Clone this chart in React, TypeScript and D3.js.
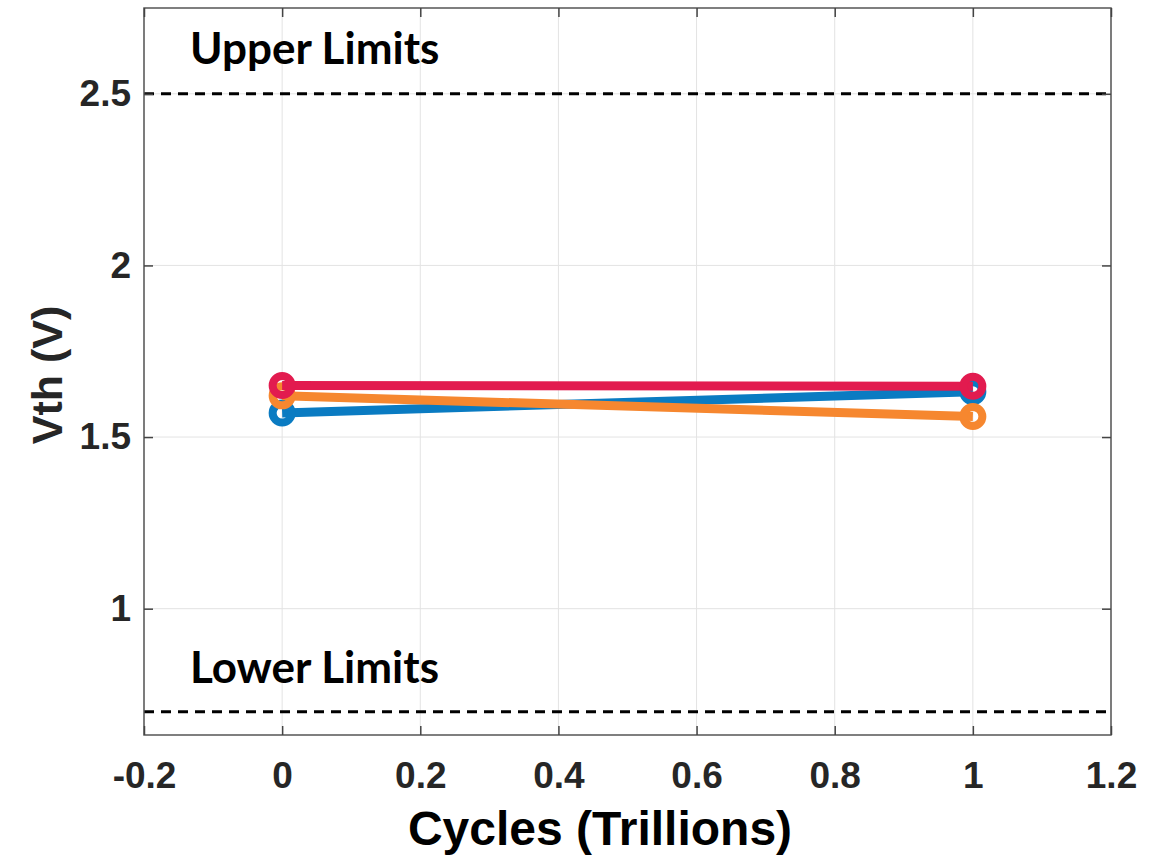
import * as d3 from "d3";
import React, { useRef, useEffect } from "react";

const cycles = [0, 1];
const blueVth = [1.57, 1.632];
const orangeVth = [1.62, 1.56];
const redVth = [1.65, 1.648];
const series = [
  { name: "blue", values: blueVth, color: "#0A7BC2" },
  { name: "orange", values: orangeVth, color: "#F6872F" },
  { name: "red", values: redVth, color: "#E21B4F" },
];
const xTicks = [-0.2, 0, 0.2, 0.4, 0.6, 0.8, 1, 1.2];
const yTicks = [1, 1.5, 2, 2.5];
const upperLimit = 2.5;
const lowerLimit = 0.7;

const W = 1166;
const H = 859;
const margin = { top: 8, right: 55, bottom: 124, left: 144 };

export default function App() {
  const ref = useRef<SVGSVGElement>(null);

  useEffect(() => {
    const svg = d3.select(ref.current);
    svg.selectAll("*").remove();

    const x = d3.scaleLinear().domain([-0.2, 1.2]).range([margin.left, W - margin.right]);
    const y = d3.scaleLinear().domain([0.632, 2.75]).range([H - margin.bottom, margin.top]);
    const [x0, x1] = x.range();
    const [y0, y1] = y.range();

    const g = svg.append("g");

    // grid
    g.selectAll(".gx")
      .data(xTicks)
      .enter()
      .append("line")
      .attr("x1", (d) => x(d))
      .attr("x2", (d) => x(d))
      .attr("y1", y0)
      .attr("y2", y1)
      .attr("stroke", "#e3e3e3")
      .attr("stroke-width", 1);
    g.selectAll(".gy")
      .data(yTicks)
      .enter()
      .append("line")
      .attr("x1", x0)
      .attr("x2", x1)
      .attr("y1", (d) => y(d))
      .attr("y2", (d) => y(d))
      .attr("stroke", "#e3e3e3")
      .attr("stroke-width", 1);

    // limit lines
    [upperLimit, lowerLimit].forEach((v) => {
      g.append("line")
        .attr("x1", x0)
        .attr("x2", x1)
        .attr("y1", y(v))
        .attr("y2", y(v))
        .attr("stroke", "#000")
        .attr("stroke-width", 3)
        .attr("stroke-dasharray", "10,7");
    });

    const labelFont = "Lato, 'Open Sans', sans-serif";
    g.append("text")
      .attr("x", 190)
      .attr("y", y(upperLimit) - 30)
      .attr("font-family", labelFont)
      .attr("font-weight", "bold")
      .attr("font-size", 44)
      .attr("fill", "#000")
      .text("Upper Limits");
    g.append("text")
      .attr("x", 190)
      .attr("y", y(lowerLimit) - 29)
      .attr("font-family", labelFont)
      .attr("font-weight", "bold")
      .attr("font-size", 44)
      .attr("fill", "#000")
      .text("Lower Limits");

    // series
    const line = d3
      .line<number>()
      .x((_, i) => x(cycles[i]))
      .y((d) => y(d));
    series.forEach((s) => {
      g.append("path")
        .datum(s.values)
        .attr("d", line)
        .attr("fill", "none")
        .attr("stroke", s.color)
        .attr("stroke-width", 9);
      g.selectAll(".pt-" + s.name)
        .data(s.values)
        .enter()
        .append("circle")
        .attr("cx", (_, i) => x(cycles[i]))
        .attr("cy", (d) => y(d))
        .attr("r", 9.5)
        .attr("fill", "none")
        .attr("stroke", s.color)
        .attr("stroke-width", 8);
    });

    // box
    g.append("rect")
      .attr("x", x0)
      .attr("y", y1)
      .attr("width", x1 - x0)
      .attr("height", y0 - y1)
      .attr("fill", "none")
      .attr("stroke", "#555")
      .attr("stroke-width", 1.5);

    // axes with inward ticks
    const tickLen = 9;
    const fmt = (d: any) => String(+d);
    const bottom = d3.axisBottom(x).tickValues(xTicks).tickSize(-tickLen).tickPadding(27).tickFormat(fmt);
    const top = d3.axisTop(x).tickValues(xTicks).tickSize(-tickLen).tickFormat(() => "");
    const left = d3.axisLeft(y).tickValues(yTicks).tickSize(-tickLen).tickPadding(13).tickFormat(fmt);
    const right = d3.axisRight(y).tickValues(yTicks).tickSize(-tickLen).tickFormat(() => "");

    const styleAxis = (sel: any) => {
      sel.select(".domain").remove();
      sel.selectAll(".tick line").attr("stroke", "#444").attr("stroke-width", 1.5);
      sel
        .selectAll("text")
        .attr("font-family", "'Liberation Sans', Arial, sans-serif")
        .attr("font-weight", "bold")
        .attr("font-size", 37)
        .attr("fill", "#262626");
    };
    g.append("g").attr("transform", `translate(0,${y0})`).call(bottom).call(styleAxis);
    g.append("g").attr("transform", `translate(0,${y1})`).call(top).call(styleAxis);
    g.append("g").attr("transform", `translate(${x0},0)`).call(left).call(styleAxis);
    g.append("g").attr("transform", `translate(${x1},0)`).call(right).call(styleAxis);

    // axis labels
    g.append("text")
      .attr("x", 600)
      .attr("y", 845)
      .attr("text-anchor", "middle")
      .attr("font-family", "'Liberation Sans', Arial, sans-serif")
      .attr("font-weight", "bold")
      .attr("font-size", 48)
      .attr("fill", "#000")
      .text("Cycles (Trillions)");
    g.append("text")
      .attr("transform", `translate(62,375) rotate(-90)`)
      .attr("text-anchor", "middle")
      .attr("font-family", "'Liberation Sans', Arial, sans-serif")
      .attr("font-weight", "bold")
      .attr("font-size", 43)
      .attr("fill", "#262626")
      .text("Vth (V)");
  }, []);

  return (
    <div className="chart">
      <svg
        ref={ref}
        width={W}
        height={H}
        style={{ position: "absolute", left: 0, top: 0, background: "#fff" }}
      ></svg>
    </div>
  );
}
